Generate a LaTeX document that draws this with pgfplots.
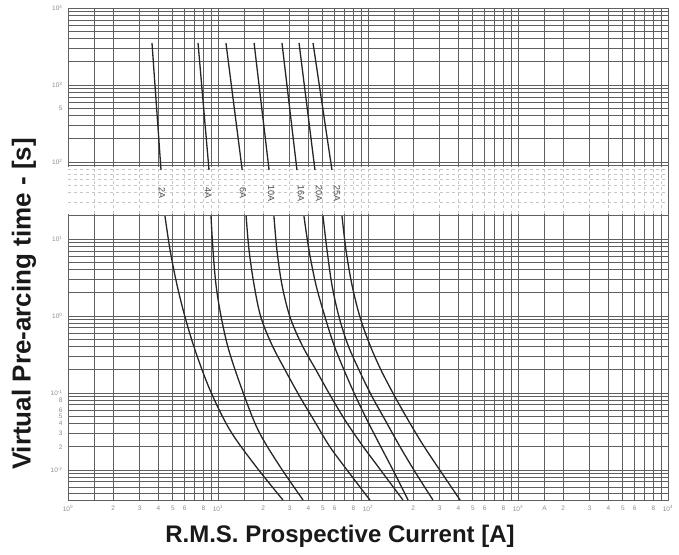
\documentclass[border=0pt]{standalone}
\usepackage{pgfplots}
\pgfplotsset{compat=1.18}
\usepackage{fontspec}
\setmainfont{Liberation Sans}
\definecolor{gridc}{RGB}{95,95,95}
\definecolor{tickc}{RGB}{140,140,140}
\begin{document}
\begin{tikzpicture}
\useasboundingbox (0,0) rectangle (679pt,554pt);
\begin{axis}[
    at={(68pt,54pt)}, anchor=south west,
    scale only axis, width=600pt, height=492pt,
    xmode=log, ymode=log,
    xmin=1, xmax=10000, ymin=0.00407, ymax=10000,
    xtick={1,2,3,4,5,6,8,10,20,30,40,50,60,80,100,200,300,400,500,600,800,1000,1500,2000,3000,4000,5000,6000,8000,10000},
    xticklabels={10\textsuperscript{0},2,3,4,5,6,8,10\textsuperscript{1},2,3,4,5,6,8,10\textsuperscript{2},2,3,4,5,6,8,10\textsuperscript{3},A,2,3,4,5,6,8,10\textsuperscript{4}},
    minor xtick={1.5,7,9,15,70,90,150,700,900,7000,9000},
    ytick={0.01,0.02,0.03,0.04,0.05,0.06,0.08,0.1,1,10,100,500,1000,10000},
    yticklabels={10\textsuperscript{-2},2,3,4,5,6,8,10\textsuperscript{-1},10\textsuperscript{0},10\textsuperscript{1},10\textsuperscript{2},5,10\textsuperscript{3},10\textsuperscript{4}},
    minor ytick={0.005,0.006,0.007,0.008,0.009,0.07,0.09,0.2,0.3,0.4,0.5,0.6,0.7,0.8,0.9,2,3,4,5,6,7,8,9,20,30,40,50,60,70,80,90,200,300,400,600,700,800,900,2000,3000,4000,5000,6000,7000,8000,9000},
    grid=both,
    major grid style={gridc, line width=0.8pt},
    minor grid style={gridc, line width=0.8pt},
    axis line style={gridc, line width=0.8pt},
    major tick length=0pt, minor tick length=0pt,
    tick label style={font=\fontsize{6.5}{7}\selectfont, text=tickc},
    xticklabel style={yshift=-2pt},
    yticklabel style={xshift=-2pt},
]
% band where the curves are interrupted
\fill[white] (axis cs:1,21) rectangle (axis cs:10000,86);
\pgfplotsinvokeforeach{30,40,50,60,70,80}{
  \draw[gray!45, dashed, line width=0.8pt] (axis cs:1,#1) -- (axis cs:10000,#1);
}
\pgfplotsinvokeforeach{1.5,2,3,4,5,6,7,8,9,10,15,20,30,40,50,60,70,80,90,100,150,200,300,400,500,600,700,800,900,1000,1500,2000,3000,4000,5000,6000,7000,8000,9000}{
  \draw[gray!45, dashed, line width=0.8pt] (axis cs:#1,21) -- (axis cs:#1,86);
}

\pgfplotsset{fuse/.style={black!85, line width=1.3pt, smooth, tension=0.55, no marks}}
% 2 A
\addplot[fuse] coordinates {(3.63,3510) (4.17,78.7)};
\addplot[fuse] coordinates {(4.43,19.9) (4.79,7.20) (5.33,2.53) (6.03,0.970) (7.03,0.361) (8.85,0.109) (12.0,0.0330) (17.6,0.0116) (27.1,0.00407)};
% 4 A
\addplot[fuse] coordinates {(7.36,3510) (8.71,78.7)};
\addplot[fuse] coordinates {(8.98,19.9) (9.26,7.20) (9.70,2.53) (10.5,0.970) (11.8,0.361) (14.5,0.109) (18.5,0.0330) (25.5,0.0116) (36.9,0.00407)};
% 6 A
\addplot[fuse] coordinates {(11.3,3510) (14.5,78.7)};
\addplot[fuse] coordinates {(15.4,19.9) (16.1,7.20) (17.4,2.53) (19.3,0.970) (22.9,0.420) (28.0,0.199) (35.2,0.0888) (44.3,0.0420) (55.8,0.0199) (75.9,0.00887) (103,0.00407)};
% 10 A
\addplot[fuse] coordinates {(17.4,3510) (21.9,78.7)};
\addplot[fuse] coordinates {(23.6,19.9) (24.7,7.20) (26.7,2.53) (30.2,0.970) (36.3,0.420) (45.0,0.199) (55.8,0.0942) (70.2,0.0446) (91.2,0.0211) (124,0.00942) (171,0.00407)};
% 16 A
\addplot[fuse] coordinates {(26.7,3510) (33.6,78.7)};
\addplot[fuse] coordinates {(37.4,19.9) (40.4,7.20) (45.0,2.53) (51.7,0.970) (59.3,0.420) (69.2,0.199) (81.9,0.0942) (98.5,0.0446) (120,0.0211) (149,0.00942) (185,0.00407)};
% 20 A
\addplot[fuse] coordinates {(34.7,3510) (44.3,78.7)};
\addplot[fuse] coordinates {(50.1,19.9) (53.3,7.20) (57.5,2.53) (64.1,0.970) (73.5,0.420) (87.1,0.199) (105,0.0942) (130,0.0446) (161,0.0211) (206,0.00942) (271,0.00407)};
% 25 A
\addplot[fuse] coordinates {(43.0,3510) (57.5,78.7)};
\addplot[fuse] coordinates {(67.1,19.9) (71.3,7.20) (78.2,2.53) (88.4,0.970) (103,0.420) (122,0.199) (149,0.0942) (185,0.0446) (233,0.0211) (307,0.00942) (411,0.00407)};

\begin{scope}[every node/.style={rotate=-90, font=\fontsize{9}{10}\selectfont, text=black!70}]
\node at (axis cs:4.23,39.5) {2A};
\node at (axis cs:8.58,39.5) {4A};
\node at (axis cs:14.7,39.5) {6A};
\node at (axis cs:22.6,39.5) {10A};
\node at (axis cs:35.8,39.5) {16A};
\node at (axis cs:47.1,39.5) {20A};
\node at (axis cs:62.1,39.5) {25A};
\end{scope}
\end{axis}
\node[font=\bfseries\fontsize{24}{28}\selectfont, text=black!90] at (340pt,18pt) {R.M.S. Prospective Current [A]};
\node[rotate=90, font=\bfseries\fontsize{26}{30}\selectfont, text=black!90] at (24pt,250pt) {Virtual Pre-arcing time - [s]};
\end{tikzpicture}
\end{document}
